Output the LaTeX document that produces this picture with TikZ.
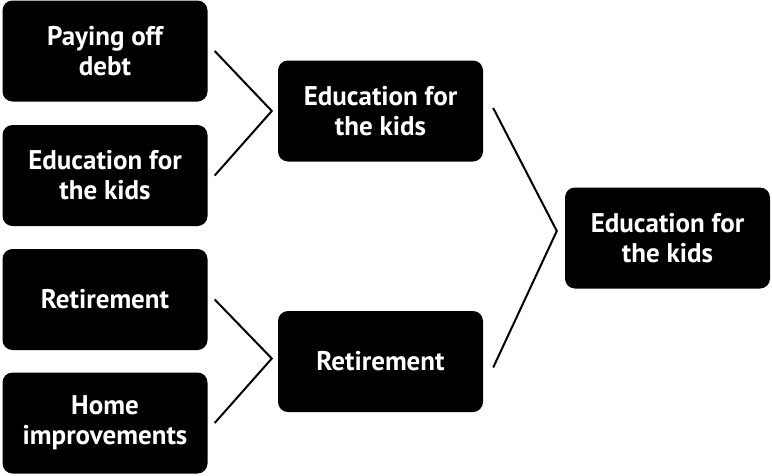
\documentclass[tikz,border=0pt]{standalone}
\usepackage{fontspec}
\setmainfont{PT Sans}
\usetikzlibrary{calc}
\tikzset{
  goal/.style={fill=black, rounded corners=10pt, minimum width=205pt, minimum height=101pt,
    inner sep=0pt, text=white, align=center, font=\bfseries\fontsize{27}{30}\selectfont},
  link/.style={draw=black, line width=2pt, line join=miter}
}
\begin{document}
\begin{tikzpicture}[x=1pt,y=-1pt]
  \useasboundingbox (0,0) rectangle (772,475);
  % first round
  \node[goal] (b1) at (105,51) {Paying off\\debt};
  \node[goal] (b2) at (105,175.5) {Education for\\the kids};
  \node[goal] (b3) at (105,299.5) {Retirement};
  \node[goal] (b4) at (105,423) {Home\\improvements};
  % second round
  \node[goal] (m1) at (380.5,111) {Education for\\the kids};
  \node[goal] (m2) at (380.5,361.5) {Retirement};
  % final
  \node[goal] (r) at (667.5,238) {Education for\\the kids};
  % bracket connectors
  \draw[link] ($(b1.east)+(7,0)$) -- ($(m1.west)+(-6,0)$) -- ($(b2.east)+(7,0)$);
  \draw[link] ($(b3.east)+(7,0)$) -- ($(m2.west)+(-6,-3)$) -- ($(b4.east)+(7,0)$);
  \draw[link] ($(m1.east)+(10,-3)$) -- ($(r.west)+(-8,-7)$) -- ($(m2.east)+(10,6)$);
\end{tikzpicture}
\end{document}
